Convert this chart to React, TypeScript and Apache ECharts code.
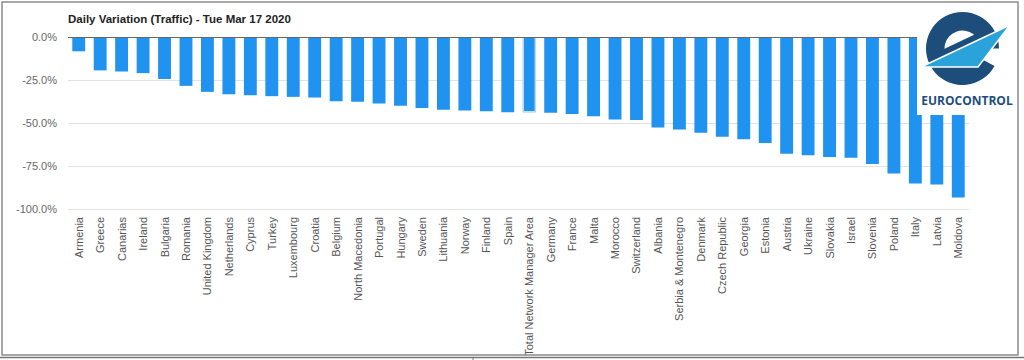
import React, { useEffect, useRef } from "react";
import * as echarts from "echarts";

const titleText = "Daily Variation (Traffic) - Tue Mar 17 2020";

const categories = [
  "Armenia", "Greece", "Canarias", "Ireland", "Bulgaria", "Romania", "United Kingdom",
  "Netherlands", "Cyprus", "Turkey", "Luxembourg", "Croatia", "Belgium", "North Macedonia",
  "Portugal", "Hungary", "Sweden", "Lithuania", "Norway", "Finland", "Spain",
  "Total Network Manager Area", "Germany", "France", "Malta", "Morocco", "Switzerland",
  "Albania", "Serbia & Montenegro", "Denmark", "Czech Republic", "Georgia", "Estonia",
  "Austria", "Ukraine", "Slovakia", "Israel", "Slovenia", "Poland", "Italy", "Latvia", "Moldova",
];

const variation = [
  -8.3, -19.4, -20, -21, -24.4, -28.4, -31.9,
  -33.3, -33.8, -34.4, -34.8, -35.2, -37.3, -37.7,
  -38.6, -40, -41.3, -42.3, -42.7, -43.1, -43.7,
  -43.7, -44, -44.8, -46.1, -47.9, -48.3,
  -52.6, -53.8, -55.6, -58, -59.4, -61.7,
  -67.9, -68.8, -69.8, -70.2, -73.8, -79.3, -85.2, -85.8, -93.3,
];

const highlighted = "Total Network Manager Area";

const yTicks = { min: -100, max: 0, interval: 25 };

const FONT = "'Liberation Sans', Arial, sans-serif";
const BAR = "#2092f0";
const DARK = "#1d4e7b";
const LIGHT = "#2aa3da";

export default function App() {
  const ref = useRef<HTMLDivElement>(null);

  useEffect(() => {
    if (!ref.current) return;
    const chart = echarts.init(ref.current, undefined, { renderer: "svg" });

    const hiIdx = categories.indexOf(highlighted);
    const outline = variation.map((v, i) => (i === hiIdx ? v : "-"));

    chart.setOption({
      animation: false,
      title: {
        text: titleText,
        left: 68,
        top: 13,
        padding: 0,
        textStyle: { fontSize: 11.5, fontWeight: "bold", color: "#222", fontFamily: FONT },
      },
      grid: { left: 68, right: 55, top: 37, bottom: 151, containLabel: false },
      xAxis: {
        type: "category",
        data: categories,
        axisLine: { show: false },
        axisTick: { show: false },
        axisLabel: {
          rotate: 90,
          interval: 0,
          fontSize: 11,
          color: "#555",
          margin: 8,
          fontFamily: FONT,
        },
      },
      yAxis: {
        type: "value",
        min: yTicks.min,
        max: yTicks.max,
        interval: yTicks.interval,
        axisLine: { show: false },
        axisTick: { show: false },
        axisLabel: {
          fontSize: 11,
          color: "#666",
          margin: 11,
          fontFamily: FONT,
          formatter: (v: number) => v.toFixed(1) + "%",
        },
        splitLine: { lineStyle: { color: "#e2e2e2", width: 1 } },
      },
      series: [
        {
          type: "bar",
          data: outline,
          barCategoryGap: "40%",
          barGap: "-100%",
          itemStyle: { color: "transparent", borderColor: "#3b7f8e", borderWidth: 3 },
          silent: true,
          z: 2,
        },
        {
          type: "bar",
          data: variation.map((v, i) =>
            i === hiIdx
              ? { value: v, itemStyle: { color: BAR, borderColor: "#e6f2fb", borderWidth: 1 } }
              : v
          ),
          barCategoryGap: "40%",
          barGap: "-100%",
          itemStyle: { color: BAR },
          z: 3,
          markLine: {
            silent: true,
            symbol: ["none", "none"],
            label: { show: false },
            lineStyle: { color: "#666", width: 1, type: "solid" },
            data: [{ yAxis: 0 }],
          },
        },
      ],
      graphic: [
        // outer frame
        {
          type: "rect",
          shape: { x: 2, y: 2, width: 1016, height: 353 },
          style: { fill: "none", stroke: "#8c8c8c", lineWidth: 1.5 },
          z: 50,
        },
        {
          type: "line",
          shape: { x1: 0, y1: 357.5, x2: 1024, y2: 357.5 },
          style: { stroke: "#777", lineWidth: 1.5 },
          z: 50,
        },
        {
          type: "line",
          shape: { x1: 473, y1: 357, x2: 473, y2: 360 },
          style: { stroke: "#777", lineWidth: 1 },
          z: 50,
        },
        // logo background
        {
          type: "rect",
          shape: { x: 917, y: 3, width: 100, height: 112 },
          style: { fill: "#ffffff" },
          z: 60,
        },
        {
          type: "sector",
          shape: {
            cx: 962.5,
            cy: 48.5,
            r: 36.5,
            r0: 18,
            startAngle: 0.5,
            endAngle: Math.PI * 2,
            clockwise: true,
          },
          style: { fill: DARK },
          z: 61,
        },
        {
          type: "polygon",
          shape: { points: [[944, 49], [982, 31], [982, 39], [944, 57]] },
          style: { fill: DARK },
          z: 61,
        },
        {
          type: "polygon",
          shape: { points: [[921, 67], [1010, 25], [978, 67]] },
          style: { fill: LIGHT, stroke: "#ffffff", lineWidth: 1.5 },
          z: 62,
        },
        {
          type: "text",
          style: {
            text: "EUROCONTROL",
            x: 967,
            y: 100,
            align: "center",
            verticalAlign: "middle",
            fill: DARK,
            font: "bold 12px 'Open Sans', 'Liberation Sans', sans-serif",
          },
          z: 63,
        },
      ],
    });

    return () => chart.dispose();
  }, []);

  return (
    <div
      ref={ref}
      style={{ position: "absolute", left: 0, top: 0, width: 1024, height: 360, background: "#fff" }}
    />
  );
}
